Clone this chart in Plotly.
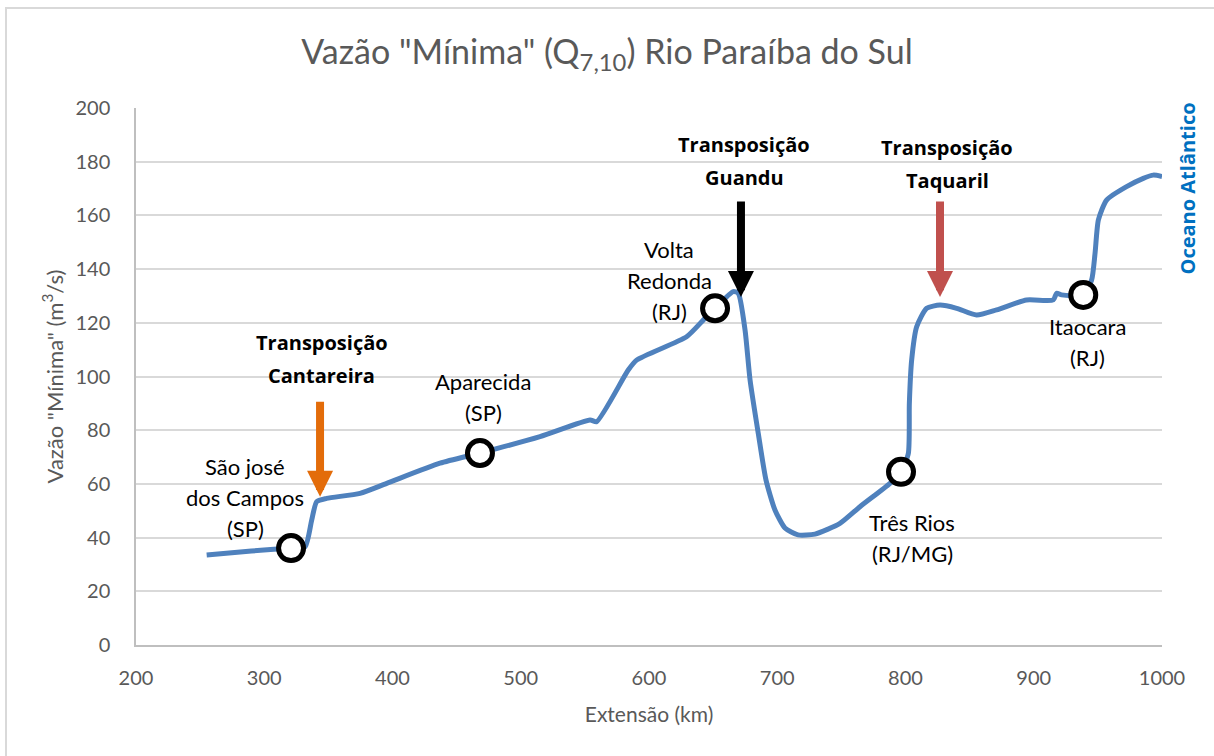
import plotly.graph_objects as go

# River profile: distance along the river (km) and Q7,10 minimum flow (m3/s)
extensao_km = [255.1, 290.0, 320.9, 331.8, 337.0, 340.9, 348.6, 374.7, 395.5, 437.0,
               468.2, 515.0, 554.0, 559.2, 583.8, 590.3, 629.3, 642.3, 651.5, 665.7,
               669.6, 674.9, 678.8, 685.2, 691.2, 698.2, 706.0, 716.2, 729.4, 748.9,
               764.5, 787.9, 796.5, 802.2, 803.0, 804.8, 808.7, 816.5, 826.9, 839.9,
               855.4, 871.0, 894.4, 915.2, 917.8, 921.7, 938.6, 945.1, 947.8, 950.4,
               956.8, 972.4, 985.4, 993.2, 1000.0]
vazao_m3s = [33.5, 35.0, 36.1, 36.6, 46.5, 53.4, 54.6, 56.5, 60.2, 67.7,
             71.5, 77.6, 83.8, 83.2, 102.4, 106.1, 114.8, 121.0, 125.4, 131.6,
             131.0, 117.3, 98.7, 78.8, 61.5, 50.3, 43.6, 41.0, 41.3, 45.3,
             51.5, 60.2, 64.5, 71.3, 90.0, 106.1, 118.5, 125.4, 126.6, 125.4,
             122.9, 124.8, 128.5, 128.5, 131.0, 130.4, 130.4, 135.9, 145.9, 158.3,
             165.7, 170.7, 173.8, 175.0, 174.5]

# Cities along the river
cidades = [["São josé", "dos Campos", "(SP)"], ["Aparecida", "(SP)"],
           ["Volta", "Redonda", "(RJ)"], ["Três Rios", "(RJ/MG)"], ["Itaocara", "(RJ)"]]
cidades_km = [320.9, 468.2, 651.5, 796.5, 938.6]
cidades_vazao = [36.1, 71.5, 125.4, 64.5, 130.4]
# Where each city's name is written (centre of the text block)
cidades_txt_km = [285.0, 470.6, 615.6, 805.4, 941.9]
cidades_txt_vazao = [55.1, 92.5, 135.8, 40.0, 112.7]

# Water transfers (transposições): label, arrow position and colour
transp_nomes = [["Transposição", "Cantareira"], ["Transposição", "Guandu"],
                ["Transposição", "Taquaril"]]
transp_km = [343.5, 671.7, 826.9]
transp_topo = [91.2, 165.7, 165.7]
transp_ponta = [55.2, 129.6, 129.6]
transp_cores = ["#E36C0A", "#000000", "#C0504D"]
transp_txt_km = [345.0, 674.1, 832.7]
transp_txt_vazao = [106.5, 180.3, 179.1]

x_ticks = [200, 300, 400, 500, 600, 700, 800, 900, 1000]
y_ticks = [0, 20, 40, 60, 80, 100, 120, 140, 160, 180, 200]

FONT = "Lato, 'Open Sans', sans-serif"
BOLD_FONT = "'Open Sans', Lato, sans-serif"
GREY = "#595959"

fig = go.Figure()

fig.add_trace(go.Scatter(
    x=extensao_km, y=vazao_m3s, mode="lines",
    line=dict(color="#4F81BD", width=5, shape="spline", smoothing=0.6),
    hoverinfo="skip", showlegend=False,
))

fig.add_trace(go.Scatter(
    x=cidades_km, y=cidades_vazao, mode="markers",
    marker=dict(symbol="circle", size=25, color="white",
                line=dict(color="black", width=5)),
    hoverinfo="skip", showlegend=False,
))

annotations = []


def text_block(lines, x, y, spacing, size, family, bold=False):
    """Write a multi-line label, one annotation per line, centred on (x, y)."""
    n = len(lines)
    for i, line in enumerate(lines):
        txt = "<b>" + line + "</b>" if bold else line
        annotations.append(dict(
            x=x, y=y, xref="x", yref="y", text=txt, showarrow=False,
            yshift=((n - 1) / 2 - i) * spacing,
            font=dict(family=family, size=size, color="black"),
            xanchor="center", yanchor="middle",
        ))


for linhas, x, y in zip(cidades, cidades_txt_km, cidades_txt_vazao):
    text_block(linhas, x, y, 31, 22, FONT)

for linhas, x, topo, ponta, cor, tx, ty in zip(transp_nomes, transp_km, transp_topo,
                                                 transp_ponta, transp_cores,
                                                 transp_txt_km, transp_txt_vazao):
    annotations.append(dict(
        x=x, y=ponta, ax=x, ay=topo, xref="x", yref="y", axref="x", ayref="y",
        text="", showarrow=True, arrowhead=2, arrowsize=0.65, arrowwidth=8,
        arrowcolor=cor,
    ))
    text_block(linhas, tx, ty, 33, 20, BOLD_FONT, bold=True)

annotations.append(dict(
    x=1.0253, y=0.85, xref="paper", yref="paper", text="<b>Oceano Atlântico</b>",
    textangle=-90, showarrow=False, xanchor="center", yanchor="middle",
    font=dict(family=BOLD_FONT, size=20, color="#0070C0"),
))

fig.update_layout(
    width=1214, height=756,
    margin=dict(l=136, r=52, t=108, b=111),
    paper_bgcolor="white", plot_bgcolor="white",
    title=dict(text='Vazão "Mínima" (Q<sub>7,10</sub>) Rio Paraíba do Sul',
               x=0.5, xanchor="center", y=0.931, yanchor="middle",
               font=dict(family=FONT, size=34, color=GREY)),
    xaxis=dict(range=[200, 1000], tickvals=x_ticks, showgrid=False,
               showline=True, linecolor="#BFBFBF", linewidth=1.5,
               ticks="", ticklabelstandoff=14, zeroline=False,
               tickfont=dict(family=FONT, size=20, color=GREY),
               title=dict(text="Extensão (km)", standoff=20,
                          font=dict(family=FONT, size=21, color=GREY))),
    yaxis=dict(range=[0, 200], tickvals=y_ticks, showgrid=True,
               gridcolor="#D9D9D9", gridwidth=1.5,
               showline=True, linecolor="#BFBFBF", linewidth=1.5,
               ticks="", ticklabelstandoff=20, zeroline=False,
               tickfont=dict(family=FONT, size=20, color=GREY),
               title=dict(text='Vazão "Mínima" (m<sup>3</sup>/s)', standoff=6,
                          font=dict(family=FONT, size=22, color=GREY))),
    annotations=annotations,
    shapes=[dict(type="rect", xref="paper", yref="paper",
                 x0=-0.1267, x1=1.06, y0=-0.22, y1=1.186,
                 line=dict(color="#D9D9D9", width=2), layer="below")],
)

fig.write_html("out.html")
